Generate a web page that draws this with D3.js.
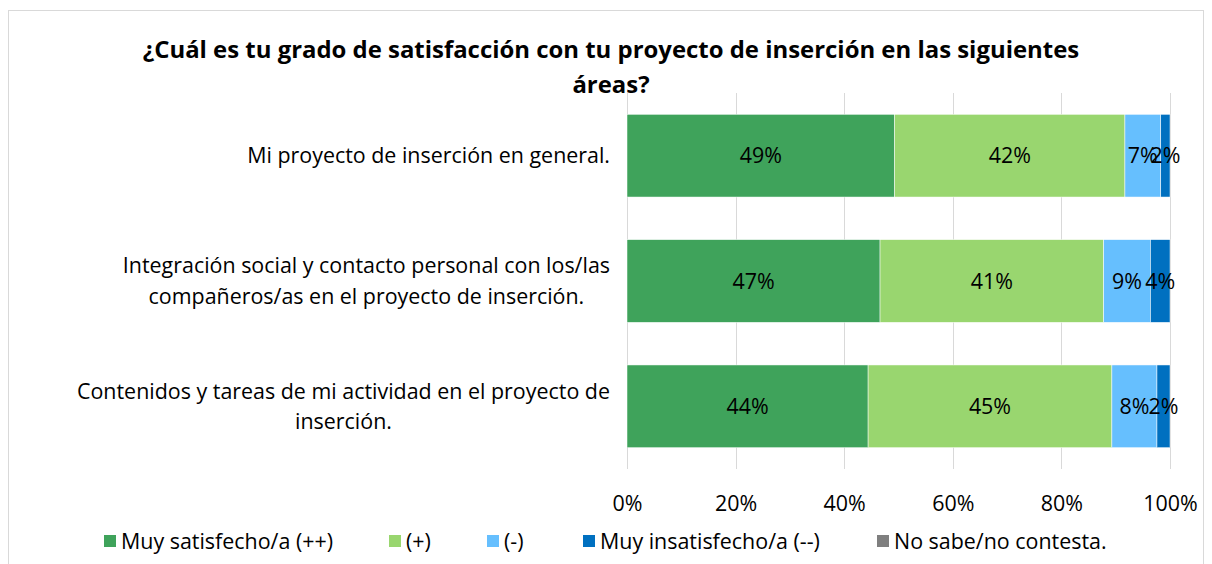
<!DOCTYPE html>
<html>
<head>
<meta charset="utf-8">
<script src="https://cdn.jsdelivr.net/npm/d3@7"></script>
<style>
  body { margin: 0; background: #fff; }
  svg text { font-family: "Open Sans", "Noto Sans", sans-serif; fill: #000; }
</style>
</head>
<body>
<svg id="chart" width="1212" height="564"></svg>
<script>
// categories (top to bottom), each split in display lines
const categories = [
  ['Mi proyecto de inserción en general.'],
  ['Integración social y contacto personal con los/las', 'compañeros/as en el proyecto de inserción.'],
  ['Contenidos y tareas de mi actividad en el proyecto de', 'inserción.']
];
const seriesNames = ['Muy satisfecho/a (++)', '(+)', '(-)', 'Muy insatisfecho/a (--)', 'No sabe/no contesta.'];
const seriesColors = ['#3fa35b', '#99d66f', '#66bffe', '#0070c0', '#7f7f7f'];

// share of answers per series, one value per category
const muySatisfecho = [0.493, 0.466, 0.444];
const satisfecho = [0.424, 0.412, 0.449];
const insatisfecho = [0.066, 0.086, 0.083];
const muyInsatisfecho = [0.017, 0.036, 0.024];
const noSabe = [0, 0, 0];

const xTicks = [0, 0.2, 0.4, 0.6, 0.8, 1];
const title = ['¿Cuál es tu grado de satisfacción con tu proyecto de inserción en las siguientes', 'áreas?'];

const values = [muySatisfecho, satisfecho, insatisfecho, muyInsatisfecho, noSabe];
const rows = categories.map((c, i) => {
  const r = { key: i };
  seriesNames.forEach((s, j) => { r[s] = values[j][i]; });
  return r;
});

const svg = d3.select('#chart');

// pick a font size so that a sample string gets the width seen in the picture
function fitSize(str, width, weight) {
  const t = svg.append('text')
    .style('font-size', '100px')
    .style('font-weight', weight || 'normal')
    .text(str);
  const w = t.node().getComputedTextLength();
  t.remove();
  return 100 * width / w;
}
const fs = fitSize(categories[0][0], 363);
const titleFs = fitSize(title[0], 937, 'bold');

// chart frame
svg.append('rect')
  .attr('x', 8.5).attr('y', 10.5)
  .attr('width', 1195).attr('height', 600)
  .attr('fill', 'none').attr('stroke', '#d9d9d9');

const x = d3.scaleLinear().domain([0, 1]).range([627, 1170]);
const y = d3.scaleBand()
  .domain(rows.map(d => d.key))
  .range([93, 469])
  .paddingInner(0.34)
  .paddingOuter(0.17);

// gridlines
svg.append('g')
  .selectAll('line')
  .data(xTicks)
  .join('line')
  .attr('x1', d => Math.round(x(d)) + 0.5)
  .attr('x2', d => Math.round(x(d)) + 0.5)
  .attr('y1', 93).attr('y2', 469)
  .attr('stroke', '#d9d9d9');

// axis labels
const xAxis = svg.append('g')
  .attr('transform', 'translate(0,503)')
  .call(d3.axisBottom(x).tickValues(xTicks).tickFormat(d3.format('.0%')).tickSize(0).tickPadding(0));
xAxis.select('.domain').remove();
xAxis.selectAll('text')
  .attr('dy', '0.35em')
  .style('font-size', fs + 'px')
  .style('font-family', '"Open Sans", "Noto Sans", sans-serif');

// stacked bars
const stack = d3.stack().keys(seriesNames)(rows);
const color = d3.scaleOrdinal().domain(seriesNames).range(seriesColors);
const fmt = d3.format('.0%');

const layer = svg.append('g')
  .selectAll('g')
  .data(stack)
  .join('g')
  .attr('fill', d => color(d.key));

layer.selectAll('rect')
  .data(d => d)
  .join('rect')
  .attr('x', d => x(d[0]))
  .attr('y', d => y(d.data.key))
  .attr('width', d => x(d[1]) - x(d[0]))
  .attr('height', y.bandwidth())
  .attr('stroke', '#fff')
  .attr('stroke-width', 0.5);

layer.selectAll('text')
  .data(d => d.filter(p => p[1] - p[0] > 0))
  .join('text')
  .attr('x', d => (x(d[0]) + x(d[1])) / 2)
  .attr('y', d => y(d.data.key) + y.bandwidth() / 2)
  .attr('text-anchor', 'middle')
  .attr('dy', '0.35em')
  .style('font-size', fs + 'px')
  .text(d => fmt(d[1] - d[0]));

// category labels: block pushed right, lines centred inside it
const cat = svg.append('g')
  .selectAll('text')
  .data(categories)
  .join('text')
  .attr('text-anchor', 'middle')
  .style('font-size', fs + 'px')
  .attr('y', (d, i) => y(i) + y.bandwidth() / 2);

cat.selectAll('tspan')
  .data(d => d.map((t, k) => ({ t, k, n: d.length })))
  .join('tspan')
  .attr('dy', d => d.k === 0 ? (0.35 - (d.n - 1) * 0.71) + 'em' : '1.42em')
  .text(d => d.t);

cat.each(function () {
  const spans = d3.select(this).selectAll('tspan');
  let w = 0;
  spans.each(function () { w = Math.max(w, this.getComputedTextLength()); });
  spans.attr('x', 610 - w / 2);
});

// title
svg.append('g')
  .selectAll('text')
  .data(title)
  .join('text')
  .attr('x', 611)
  .attr('y', (d, i) => 50 + i * 35)
  .attr('dy', '0.35em')
  .attr('text-anchor', 'middle')
  .style('font-size', titleFs + 'px')
  .style('font-weight', 'bold')
  .text(d => d);

// legend
const legendX = [104, 389, 487, 583, 877];
const legend = svg.append('g')
  .selectAll('g')
  .data(seriesNames)
  .join('g')
  .attr('transform', (d, i) => `translate(${legendX[i]},535)`);

legend.append('rect')
  .attr('width', 12).attr('height', 12)
  .attr('fill', d => color(d));

legend.append('text')
  .attr('x', 17).attr('y', 6)
  .attr('dy', '0.35em')
  .style('font-size', fs + 'px')
  .text(d => d);
</script>
</body>
</html>
